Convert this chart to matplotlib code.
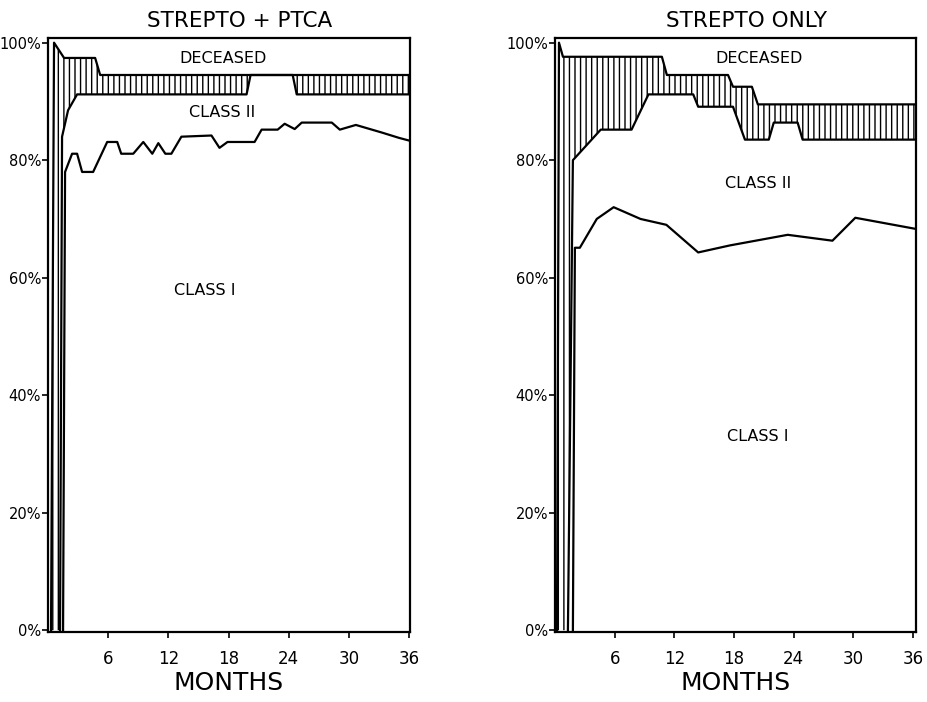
import numpy as np
import matplotlib.pyplot as plt

# months / percent
# STREPTO + PTCA panel
ptca_upper_m = [0.3, 0.6, 1.6, 4.7, 5.2, 36.1]
ptca_upper_p = [0, 100, 97.4, 97.4, 94.5, 94.5]
ptca_lower_m = [1.2, 1.4, 2.0, 2.9, 19.8, 20.2, 24.4, 24.8, 36.1]
ptca_lower_p = [0, 84, 88.5, 91.2, 91.2, 94.5, 94.5, 91.2, 91.2]
ptca_class1_m = [1.5, 1.7, 2.4, 2.9, 3.4, 4.5, 5.9, 6.9, 7.3, 8.5, 9.5, 10.4, 11.0,
                 11.7, 12.3, 13.3, 16.3, 17.1, 17.9, 20.6, 21.3, 22.9, 23.6, 24.6,
                 25.3, 28.3, 29.1, 30.7, 33.3, 35.0, 36.1]
ptca_class1_p = [0, 78, 81.1, 81.1, 78, 78, 83.1, 83.1, 81.1, 81.1, 83.1, 81.1, 82.9,
                 81.1, 81.1, 84, 84.2, 82.1, 83.1, 83.1, 85.2, 85.2, 86.2, 85.3,
                 86.4, 86.4, 85.2, 86, 84.7, 83.8, 83.3]

# STREPTO ONLY panel
strep_upper_m = [0.2, 0.4, 0.8, 10.75, 11.25, 17.4, 17.9, 19.8, 20.4, 36.3]
strep_upper_p = [0, 100, 97.6, 97.6, 94.5, 94.5, 92.5, 92.5, 89.5, 89.5]
strep_lower_m = [1.3, 1.8, 4.6, 7.7, 9.4, 13.9, 14.4, 17.9, 19.1, 21.5, 22.0, 24.4, 24.9, 36.3]
strep_lower_p = [0, 80, 85.2, 85.2, 91.2, 91.2, 89.1, 89.1, 83.5, 83.5, 86.4, 86.4, 83.5, 83.5]
strep_class1_m = [1.8, 2.0, 2.5, 4.2, 5.9, 8.6, 11.2, 14.4, 17.6, 23.4, 27.9, 30.2, 36.3]
strep_class1_p = [0, 65.1, 65.1, 70, 72, 70, 69, 64.3, 65.5, 67.3, 66.3, 70.2, 68.3]

month_ticks = [6, 12, 18, 24, 30, 36]
pct_ticks = [0, 20, 40, 60, 80, 100]
pct_labels = ['0%', '20%', '40%', '60%', '80%', '100%']

plt.rcParams['hatch.linewidth'] = 1.0
plt.rcParams['hatch.color'] = 'black'

fig = plt.figure(figsize=(9.27, 7.02), dpi=100)
ax1 = fig.add_axes([0.0518, 0.0997, 0.3905, 0.8462])
ax2 = fig.add_axes([0.5987, 0.0997, 0.3894, 0.8462])

panels = [
    (ax1, 'STREPTO + PTCA', 36.1, ptca_upper_m, ptca_upper_p, ptca_lower_m, ptca_lower_p,
     ptca_class1_m, ptca_class1_p, [(17.5, 97.3), (17.4, 88.2), (15.6, 57.9)]),
    (ax2, 'STREPTO ONLY', 36.3, strep_upper_m, strep_upper_p, strep_lower_m, strep_lower_p,
     strep_class1_m, strep_class1_p, [(20.5, 97.3), (20.4, 76.1), (20.4, 32.9)]),
]

for ax, title, xmax, um, up, lm, lp, cm, cp, spots in panels:
    # hatched band between the two upper curves
    px = np.r_[um, lm[::-1]]
    py = np.r_[up, lp[::-1]]
    ax.fill(px, py, facecolor='white', edgecolor='black', hatch='|||', linewidth=0)
    ax.plot(um, up, color='black', lw=1.6)
    ax.plot(lm, lp, color='black', lw=1.6)
    ax.plot(cm, cp, color='black', lw=1.6)

    ax.text(spots[0][0], spots[0][1], 'DECEASED', ha='center', va='center', fontsize=11.5)
    ax.text(spots[1][0], spots[1][1], 'CLASS II', ha='center', va='center', fontsize=11.5)
    ax.text(spots[2][0], spots[2][1], 'CLASS I', ha='center', va='center', fontsize=11.5)

    ax.set_xlim(0, xmax)
    ax.set_ylim(-0.3, 100.8)
    ax.set_xticks(month_ticks)
    ax.set_xticklabels([str(m) for m in month_ticks], fontsize=12)
    ax.set_yticks(pct_ticks)
    ax.set_yticklabels(pct_labels, fontsize=10.5)
    ax.tick_params(axis='x', direction='out', length=4, width=1.2, pad=9)
    ax.tick_params(axis='y', direction='out', length=4, width=1.2, pad=1)
    for s in ax.spines.values():
        s.set_linewidth(1.6)
    ax.set_title(title, fontsize=15.5, pad=8, x=0.53)
    ax.set_xlabel('MONTHS', fontsize=18, labelpad=2)

fig.savefig('out.png', dpi=100)
